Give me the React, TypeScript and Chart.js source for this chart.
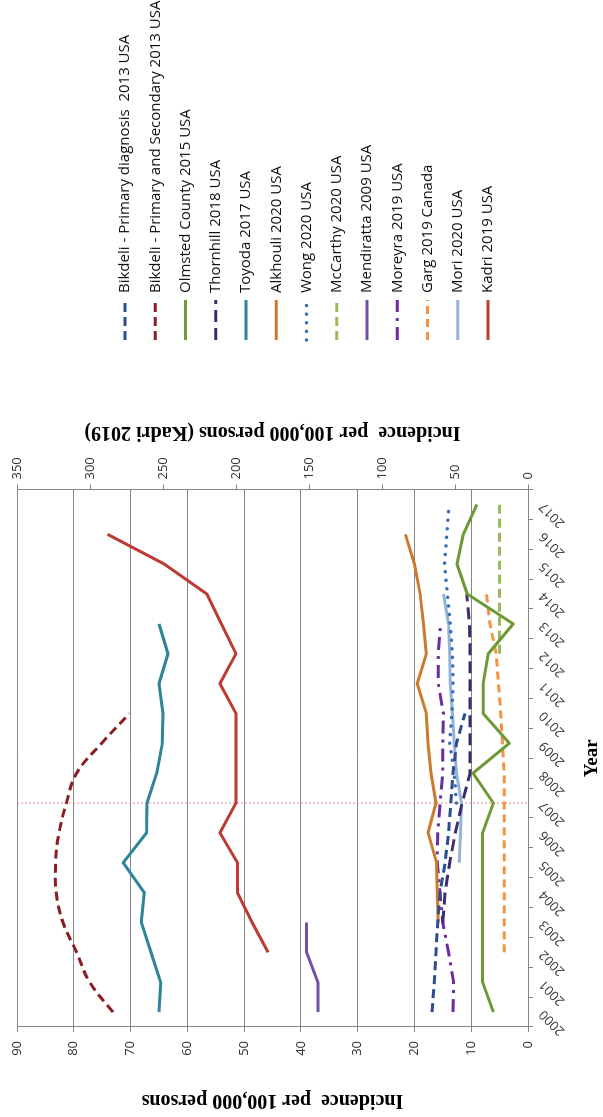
import React, { useEffect, useRef } from 'react';
import { Chart, registerables } from 'chart.js';

Chart.register(...registerables);

// ---------- data ----------
const years = ['2000', '2001', '2002', '2003', '2004', '2005', '2006', '2007', '2008', '2009', '2010', '2011', '2012', '2013', '2014', '2015', '2016', '2017'];

const bikdeliPrimary = [16.9, 16.5, 16.2, 15.9, 15.5, 14.6, 14.0, 13.6, 13.2, 12.6, 11.1, null, null, null, null, null, null, null];
const bikdeliPrimSec = [73.1, 77.2, 79.5, 81.9, 83.1, 83.2, 82.6, 81.3, 79.5, 75.1, 70.2, null, null, null, null, null, null, null];
const olmsted = [6.1, 8.0, 8.0, 8.0, 8.0, 8.0, 8.0, 6.1, 9.7, 3.3, 7.9, 7.9, 7.0, 2.6, 10.7, 12.5, 11.4, 9.0];
const thornhill = [null, null, null, 15.0, 14.6, 13.8, 12.8, 11.6, 10.2, 10.2, 10.2, 10.2, 10.2, 10.3, 10.8, null, null, null];
const toyoda = [65.0, 64.7, 66.4, 68.1, 67.6, 71.3, 67.2, 67.1, 65.4, 64.4, 64.3, 65.0, 63.4, 65.0, null, null, null, null];
const alkhouli = [null, null, null, 15.8, 16.0, 16.1, 17.6, 16.2, 17.1, 17.6, 17.9, 19.5, 17.9, 18.4, 19.0, 20.0, 21.6, null];
const wong = [null, null, null, null, null, null, null, 12.6, 13.0, 13.8, 13.4, 13.2, 13.3, 13.7, 14.2, 14.7, 14.3, 13.9];
const mccarthy = [null, null, null, null, null, null, null, null, null, null, null, null, 5.0, 5.0, 5.0, 5.0, 5.0, 5.0];
const mendiratta = [37.0, 37.0, 39.0, 39.0, null, null, null, null, null, null, null, null, null, null, null, null, null, null];
const moreyra = [13.2, 13.1, 14.0, 15.0, 15.5, 16.0, 15.9, 15.5, 15.0, 15.0, 14.9, 15.8, 15.8, 15.4, null, null, null, null];
const garg = [null, null, 4.2, 4.2, 4.2, 4.2, 4.2, 4.2, 4.2, 4.5, 4.8, 5.2, 5.6, 6.7, 7.3, null, null, null];
const mori = [null, null, null, null, null, 12.1, 11.9, 11.7, 12.6, 13.0, 13.3, 13.7, 13.8, 14.0, 14.9, null, null, null];
const kadri = [null, null, 178, 189, 199, 199, 211, 200, 200, 200, 200, 211, 200, 210, 220, 249, 288, null];

const leftTicksMax = 90;
const leftStep = 10;
const rightTicksMax = 350;
const rightStep = 50;
const markerYear = '2007';

const leftTitle = 'Incidence  per 100,000 persons';
const rightTitle = 'Incidence  per 100,000 persons (Kadri 2019)';
const xTitle = 'Year';

// ---------- layout constants ----------
const W = 1117;
const H = 603;
const LEGEND_X = 777;
const LEGEND_TOP = 125;
const LEGEND_STEP = 30.25;
const TICK_FONT = '"Open Sans", "Noto Sans", sans-serif';
const TITLE_FONT = '"Liberation Serif", "Times New Roman", serif';

export default function App() {
  const ref = useRef<HTMLCanvasElement | null>(null);

  useEffect(() => {
    const canvas = ref.current;
    if (!canvas) return;

    const mk = (label: string, data: (number | null)[], color: string, dash: number[], extra: any = {}) => ({
      label,
      data,
      borderColor: color,
      backgroundColor: color,
      borderWidth: 3,
      borderDash: dash,
      pointRadius: 0,
      pointHoverRadius: 0,
      fill: false,
      tension: 0,
      spanGaps: false,
      yAxisID: 'y',
      ...extra,
    });

    const datasets = [
      mk('Bikdeli - Primary diagnosis  2013 USA', bikdeliPrimary, '#2C4E8E', [9, 5]),
      mk('Bikdeli - Primary and Secondary 2013 USA', bikdeliPrimSec, '#8A1E22', [9, 5], { tension: 0.4 }),
      mk('Olmsted County 2015 USA', olmsted, '#6E9A36', []),
      mk('Thornhill 2018 USA', thornhill, '#3E2C70', [12, 6]),
      mk('Toyoda 2017 USA', toyoda, '#2E8499', []),
      mk('Alkhouli 2020 USA', alkhouli, '#CC7A30', []),
      mk('Wong 2020 USA', wong, '#3A6DB5', [0.1, 8.5], { borderCapStyle: 'round', borderWidth: 3.5 }),
      mk('McCarthy 2020 USA', mccarthy, '#9BBB59', [9, 5]),
      mk('Mendiratta 2009 USA', mendiratta, '#7050A8', []),
      mk('Moreyra 2019 USA', moreyra, '#6A2CA0', [13, 6, 3, 6]),
      mk('Garg 2019 Canada', garg, '#F39445', [8, 5]),
      mk('Mori 2020 USA', mori, '#95B3D7', []),
      mk('Kadri 2019 USA', kadri, '#BE3A34', [], { yAxisID: 'y1' }),
    ];

    const markerPlugin = {
      id: 'markerLine',
      beforeDatasetsDraw(chart: any) {
        const { ctx, chartArea, scales } = chart;
        const x = scales.x.getPixelForValue(years.indexOf(markerYear));
        ctx.save();
        ctx.strokeStyle = '#F08A8A';
        ctx.lineWidth = 1;
        ctx.setLineDash([2, 2]);
        ctx.beginPath();
        ctx.moveTo(x, chartArea.top);
        ctx.lineTo(x, chartArea.bottom);
        ctx.stroke();
        ctx.restore();
      },
    };

    const legendPlugin = {
      id: 'sideLegend',
      afterDraw(chart: any) {
        const c = chart.ctx;
        chart.data.datasets.forEach((d: any, i: number) => {
          const y = LEGEND_TOP + i * LEGEND_STEP;
          c.save();
          c.strokeStyle = d.borderColor;
          c.lineWidth = d.borderWidth;
          c.lineCap = d.borderCapStyle || 'butt';
          c.setLineDash(d.borderDash || []);
          c.beginPath();
          c.moveTo(LEGEND_X, y);
          c.lineTo(LEGEND_X + 40, y);
          c.stroke();
          c.setLineDash([]);
          c.fillStyle = '#111';
          c.font = `15px ${TICK_FONT}`;
          c.textBaseline = 'middle';
          c.textAlign = 'left';
          c.fillText(d.label, LEGEND_X + 47, y);
          c.restore();
        });
      },
    };

    const rightTitlePlugin = {
      id: 'rightTitle',
      afterDraw(chart: any) {
        const { ctx, chartArea } = chart;
        ctx.save();
        ctx.translate(685, (chartArea.top + chartArea.bottom) / 2);
        ctx.rotate(-Math.PI / 2);
        ctx.font = `bold 20px ${TITLE_FONT}`;
        ctx.fillStyle = '#000';
        ctx.textAlign = 'center';
        ctx.textBaseline = 'middle';
        ctx.fillText(rightTitle, 0, 0);
        ctx.restore();
      },
    };

    const chart = new Chart(canvas, {
      type: 'line',
      data: { labels: years, datasets: datasets as any },
      options: {
        responsive: false,
        animation: false,
        devicePixelRatio: 1,
        layout: { padding: { top: 17, right: W - 627.5 - 80, bottom: 0, left: 0 } },
        elements: { line: { borderJoinStyle: 'round' } },
        plugins: {
          legend: { display: false },
          tooltip: { enabled: false },
        },
        scales: {
          x: {
            type: 'category',
            offset: true,
            grid: { offset: true, drawOnChartArea: false, drawTicks: true, tickLength: 5, color: '#868686' },
            border: { color: '#868686' },
            ticks: {
              autoSkip: false,
              minRotation: 45,
              maxRotation: 45,
              padding: 3,
              color: '#333',
              font: { family: TICK_FONT, size: 13 },
            },
            title: {
              display: true,
              text: xTitle,
              color: '#000',
              padding: { top: 0, bottom: 0 },
              font: { family: TITLE_FONT, size: 19, weight: 'bold' },
            },
            afterFit: (s: any) => {
              s.height = 75;
            },
          },
          y: {
            position: 'left',
            min: 0,
            max: leftTicksMax,
            ticks: {
              stepSize: leftStep,
              padding: 9,
              color: '#333',
              font: { family: TICK_FONT, size: 13 },
            },
            grid: { color: '#868686', tickLength: 5, lineWidth: 1 },
            border: { color: '#868686' },
            title: {
              display: true,
              text: leftTitle,
              color: '#000',
              padding: { top: 5, bottom: 0 },
              font: { family: TITLE_FONT, size: 20, weight: 'bold' },
            },
            afterFit: (s: any) => {
              s.width = 90;
            },
          },
          y1: {
            position: 'right',
            min: 0,
            max: rightTicksMax,
            ticks: {
              stepSize: rightStep,
              padding: 5,
              color: '#333',
              font: { family: TICK_FONT, size: 13 },
            },
            grid: { drawOnChartArea: false, tickLength: 5, color: '#868686' },
            border: { color: '#868686' },
            afterFit: (s: any) => {
              s.width = 80;
            },
          },
        },
      } as any,
      plugins: [markerPlugin, legendPlugin, rightTitlePlugin],
    });

    return () => chart.destroy();
  }, []);

  return (
    <div style={{ position: 'fixed', left: 0, top: 0, width: H, height: W, overflow: 'hidden', background: '#fff' }}>
      <div
        style={{
          position: 'absolute',
          left: 0,
          top: 0,
          width: W,
          height: H,
          transformOrigin: '0 0',
          transform: `translateY(${W}px) rotate(-90deg)`,
        }}
      >
        <canvas ref={ref} width={W} height={H} style={{ display: 'block', width: W, height: H }} />
      </div>
    </div>
  );
}
